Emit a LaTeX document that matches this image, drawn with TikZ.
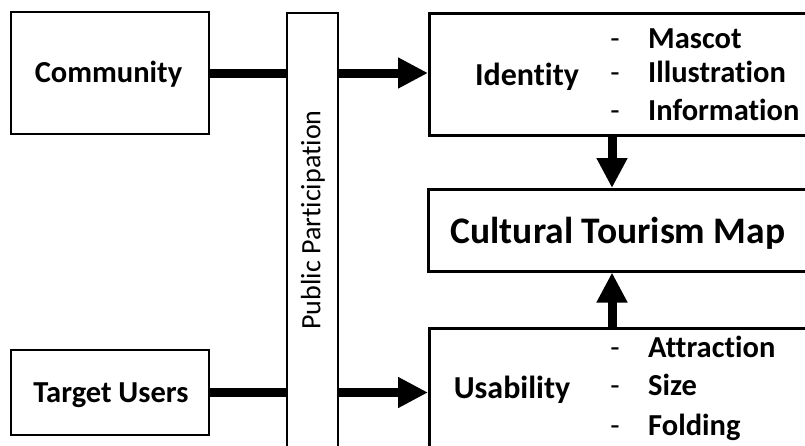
\documentclass[tikz,border=0pt]{standalone}
\usepackage{fontspec}
\setmainfont{Carlito}[Ligatures=NoCommon]
\usetikzlibrary{arrows.meta}
\begin{document}
\begin{tikzpicture}[x=1pt,y=-1pt,
  box/.style={draw,line width=2.5pt,rectangle,inner sep=0pt},
  lbl/.style={font=\fontsize{30.5}{34}\selectfont\bfseries,inner sep=0pt,anchor=base},
  mid/.style={font=\fontsize{32}{36}\selectfont\bfseries,inner sep=0pt,anchor=base},
  big/.style={font=\fontsize{37.5}{40}\selectfont\bfseries,inner sep=0pt,anchor=base},
  item/.style={font=\fontsize{30.5}{34}\selectfont\bfseries,inner sep=0pt,anchor=base west},
  dsh/.style={font=\fontsize{30.5}{34}\selectfont,inner sep=0pt,anchor=base},
  conn/.style={line width=9pt},
  arr/.style={line width=9pt,-{Triangle[length=30pt,width=29pt]}}]
\useasboundingbox (0,0) rectangle (805,445);
\clip (0,0) rectangle (805,445);
% boxes
\node[box,minimum width=198pt,minimum height=122pt] (comm) at (110,73) {};
\node[box,minimum width=198pt,minimum height=85pt] (tu) at (110,392.5) {};
\node[box,minimum width=51pt,minimum height=470pt] (bar) at (312.5,248) {};
\node[box,minimum width=400pt,minimum height=122pt,anchor=north west] (id) at (428,12) {};
\node[box,minimum width=400pt,minimum height=82pt,anchor=north west] (ctm) at (427,188) {};
\node[box,minimum width=400pt,minimum height=140pt,anchor=north west] (us) at (428,327) {};
% texts
\node[lbl] (commt) at (108.5,82) {Community};
\node[lbl] (tut) at (111,402) {Target Users};
\node[rotate=90,font=\fontsize{28}{32}\selectfont,inner sep=0pt] (ppt) at (313,220) {Public Participation};
\node[mid] (idt) at (527,85) {Identity};
\node[big] (ctmt) at (618,243) {Cultural Tourism Map};
\node[mid] (ust) at (512,398) {Usability};
\node[dsh] (d1) at (615,48) {-};
\node[dsh] (d2) at (615,82) {-};
\node[dsh] (d3) at (615,120) {-};
\node[item] (i1) at (648,48) {Mascot};
\node[item] (i2) at (648,82) {Illustration};
\node[item] (i3) at (648,120) {Information};
\node[dsh] (d4) at (615,357) {-};
\node[dsh] (d5) at (615,395) {-};
\node[dsh] (d6) at (615,435) {-};
\node[item] (u1) at (648,357) {Attraction};
\node[item] (u2) at (648,395) {Size};
\node[item] (u3) at (648,435) {Folding};
% connectors
\coordinate (ax) at (612,0);
\draw[conn] (comm.east) -- (bar.west |- comm.east);
\draw[conn] (tu.east) -- (bar.west |- tu.east);
\draw[arr] (bar.east |- comm.east) -- (id.west |- comm.east);
\draw[arr] (bar.east |- tu.east) -- (us.west |- tu.east);
\draw[arr] (id.south -| ax) -- (ctm.north -| ax);
\draw[arr] (us.north -| ax) -- (ctm.south -| ax);
\end{tikzpicture}
\end{document}
